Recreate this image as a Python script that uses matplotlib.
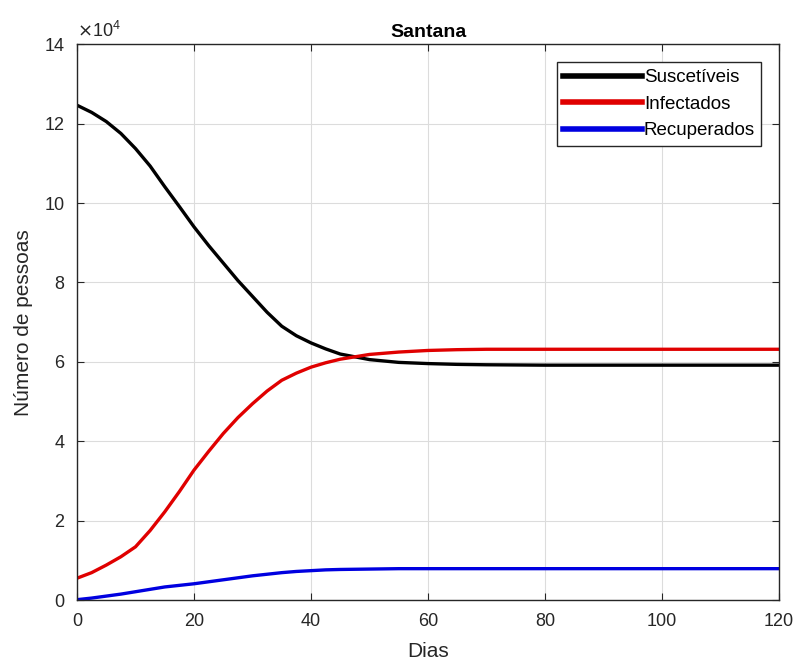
import matplotlib.pyplot as plt

plt.rcParams["font.family"] = ["Liberation Sans", "DejaVu Sans"]

# days
dias = [0, 2.5, 5, 7.5, 10, 12.5, 15, 17.5, 20, 22.5, 25, 27.5, 30, 32.5, 35,
        37.5, 40, 42.5, 45, 50, 55, 60, 65, 70, 80, 90, 100, 110, 120]

# values in units of 1e4 people
suscetiveis = [12.46, 12.28, 12.05, 11.75, 11.37, 10.93, 10.41, 9.91, 9.40,
               8.93, 8.49, 8.05, 7.65, 7.25, 6.90, 6.66, 6.48, 6.33, 6.20,
               6.06, 5.99, 5.96, 5.94, 5.93, 5.92, 5.92, 5.92, 5.92, 5.92]
infectados = [0.56, 0.70, 0.89, 1.10, 1.35, 1.76, 2.23, 2.74, 3.28, 3.75,
              4.20, 4.60, 4.95, 5.27, 5.54, 5.72, 5.87, 5.98, 6.07, 6.19,
              6.25, 6.29, 6.31, 6.32, 6.32, 6.32, 6.32, 6.32, 6.32]
recuperados = [0.02, 0.06, 0.11, 0.16, 0.22, 0.28, 0.34, 0.38, 0.42, 0.47,
               0.52, 0.57, 0.62, 0.66, 0.70, 0.73, 0.75, 0.77, 0.78, 0.79,
               0.80, 0.80, 0.80, 0.80, 0.80, 0.80, 0.80, 0.80, 0.80]

grey = "#262626"

fig = plt.figure(figsize=(7.98, 6.66), dpi=100)
ax = fig.add_axes([0.0965, 0.0984, 0.8797, 0.8355])

ax.plot(dias, suscetiveis, color="black", lw=2.4, label="Suscetíveis")
ax.plot(dias, infectados, color="#e00000", lw=2.4, label="Infectados")
ax.plot(dias, recuperados, color="#0000e0", lw=2.4, label="Recuperados")

ax.set_xlim(0, 120)
ax.set_ylim(0, 14)
ax.set_xticks(range(0, 121, 20))
ax.set_yticks(range(0, 15, 2))
ax.grid(True, color="#dcdcdc", lw=0.8)
ax.tick_params(direction="in", labelsize=13, colors=grey, length=5,
               top=True, right=True, labeltop=False, labelright=False)
ax.tick_params(axis="y", pad=9)
ax.tick_params(axis="x", pad=9)
for s in ax.spines.values():
    s.set_color(grey)
    s.set_linewidth(1)

ax.text(0.0, 1.006, r"$\times\mathregular{10^4}$", transform=ax.transAxes,
        fontsize=13, color=grey, ha="left", va="bottom")

ax.set_title("Santana", fontsize=14, fontweight="bold", pad=5)
ax.set_xlabel("Dias", fontsize=15, color=grey, labelpad=9)
ax.set_ylabel("Número de pessoas", fontsize=15, color=grey, labelpad=8)

leg = ax.legend(loc="upper right", bbox_to_anchor=(0.975, 0.967),
                fontsize=13.5, handlelength=4.2, handletextpad=0.1,
                borderpad=0.35, labelspacing=0.5, fancybox=False,
                framealpha=1, borderaxespad=0)
leg.get_frame().set_edgecolor(grey)
leg.get_frame().set_linewidth(1)
for line in leg.get_lines():
    line.set_linewidth(4)

fig.savefig("out.png", dpi=100)
